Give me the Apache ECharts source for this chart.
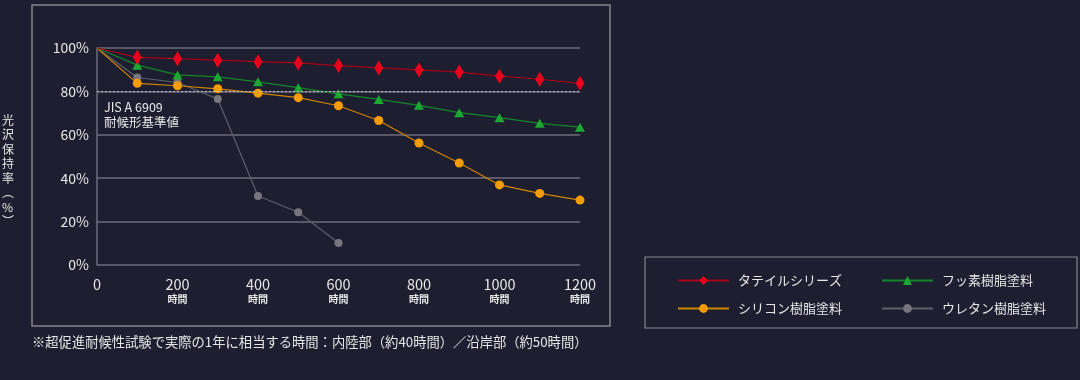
<!DOCTYPE html>
<html><head><meta charset="utf-8">
<script src="https://cdn.jsdelivr.net/npm/echarts@6/dist/echarts.min.js"></script>
<style>html,body{margin:0;padding:0;background:#1d1e2f;}#c{width:1080px;height:380px;}</style>
</head><body><div id="c"></div>
<script>
const hours = [0,100,200,300,400,500,600,700,800,900,1000,1100,1200];
const xTicks = [0,200,400,600,800,1000,1200];
const yTicks = [0,20,40,60,80,100];
const tile = [100,95.7,95.1,94.4,93.7,93.1,91.9,90.8,89.9,88.9,87.0,85.6,83.7];
const fluorine = [100,92.1,87.6,86.7,84.4,81.7,78.9,76.3,73.6,70.2,67.9,65.3,63.5];
const silicone = [100,83.7,82.6,81.2,79.2,77.1,73.4,66.6,56.2,47.0,36.9,33.0,29.9];
const urethane = [100,86.4,84.1,76.5,31.8,24.3,10.1];
const names = ['タテイルシリーズ','フッ素樹脂塗料','シリコン樹脂塗料','ウレタン樹脂塗料'];
const jisLine = 80;
const jisLabel = 'JIS A 6909\n耐候形基準値';
const yTitle = '光\n沢\n保\n持\n率\n︵\n%\n︶';
const note = '※超促進耐候性試験で実際の1年に相当する時間：内陸部（約40時間）／沿岸部（約50時間）';
const hourUnit = '時間';

const font = '"Noto Sans CJK JP","Noto Sans",sans-serif';
function pts(vals){ return vals.map((v,i)=> i===0 ? {value:[hours[i],v],symbol:'none'} : [hours[i],v]); }

const legendCommon = {orient:'vertical',top:269,itemWidth:51,itemHeight:11,itemGap:15,
  textStyle:{color:'#e6e6e6',fontSize:13,fontFamily:font,padding:[0,0,0,4]}};

const chart = echarts.init(document.getElementById('c'));
chart.setOption({
  backgroundColor:'#1d1e2f',
  animation:false,
  textStyle:{fontFamily:font},
  grid:{left:97,right:500,top:48,bottom:115},
  xAxis:{type:'value',min:0,max:1200,interval:200,
    axisLine:{show:false},axisTick:{show:false},splitLine:{show:false},
    axisLabel:{color:'#e8e8e8',margin:11,
      formatter:v=> v===0 ? '{a|0}' : '{a|'+v+'}\n{b|'+hourUnit+'}',
      rich:{a:{fontSize:14.5,color:'#e8e8e8',fontFamily:font,lineHeight:17},
            b:{fontSize:10,color:'#e8e8e8',fontWeight:'bold',fontFamily:font,lineHeight:13}}}},
  yAxis:{type:'value',min:0,max:100,interval:20,
    axisLine:{show:true,lineStyle:{color:'#6c6d7c',width:1.5}},axisTick:{show:false},
    splitLine:{show:true,lineStyle:{color:'#6c6d7c',width:1.5}},
    axisLabel:{color:'#e8e8e8',fontSize:14,margin:8,formatter:'{value}%'}},
  legend:[
    Object.assign({data:[names[0],names[2]],left:672},legendCommon),
    Object.assign({data:[names[1],names[3]],left:876},legendCommon)
  ],
  graphic:[
    {type:'rect',shape:{x:32,y:5,width:578,height:321},style:{fill:'none',stroke:'#85858f',lineWidth:1.5},silent:true},
    {type:'rect',shape:{x:645,y:257,width:432,height:71},style:{fill:'none',stroke:'#85858f',lineWidth:1.2},silent:true},
    {type:'text',left:2,top:113,style:{text:yTitle,fill:'#e6e6e6',fontSize:12,lineHeight:14.5,fontFamily:font,align:'center'}},
    {type:'text',left:32,top:335,style:{text:note,fill:'#e6e6e6',fontSize:13.3,fontFamily:font}}
  ],
  series:[
    {name:names[3],type:'line',data:pts(urethane),symbol:'circle',symbolSize:8,z:2,
     itemStyle:{color:'#76767f'},lineStyle:{color:'#5f606c',width:1.2}},
    {name:names[2],type:'line',data:pts(silicone),symbol:'circle',symbolSize:9,z:3,
     itemStyle:{color:'#f59d00'},lineStyle:{color:'#d08400',width:1.2}},
    {name:names[1],type:'line',data:pts(fluorine),symbol:'triangle',symbolSize:[10,9],z:4,
     itemStyle:{color:'#1ca833'},lineStyle:{color:'#14862a',width:1.2},
     markLine:{silent:true,symbol:'none',data:[{yAxis:jisLine}],
       lineStyle:{color:'#b8b8c0',type:[2,2],width:1.2},
       label:{position:'insideStartBottom',formatter:jisLabel,color:'#e8e8e8',fontSize:12.5,lineHeight:15,distance:[7,8],align:'left',fontFamily:font}}},
    {name:names[0],type:'line',data:pts(tile),symbol:'diamond',symbolSize:[9,15],z:5,
     itemStyle:{color:'#e8001c'},lineStyle:{color:'#a60018',width:1.2}}
  ]
});
</script></body></html>
